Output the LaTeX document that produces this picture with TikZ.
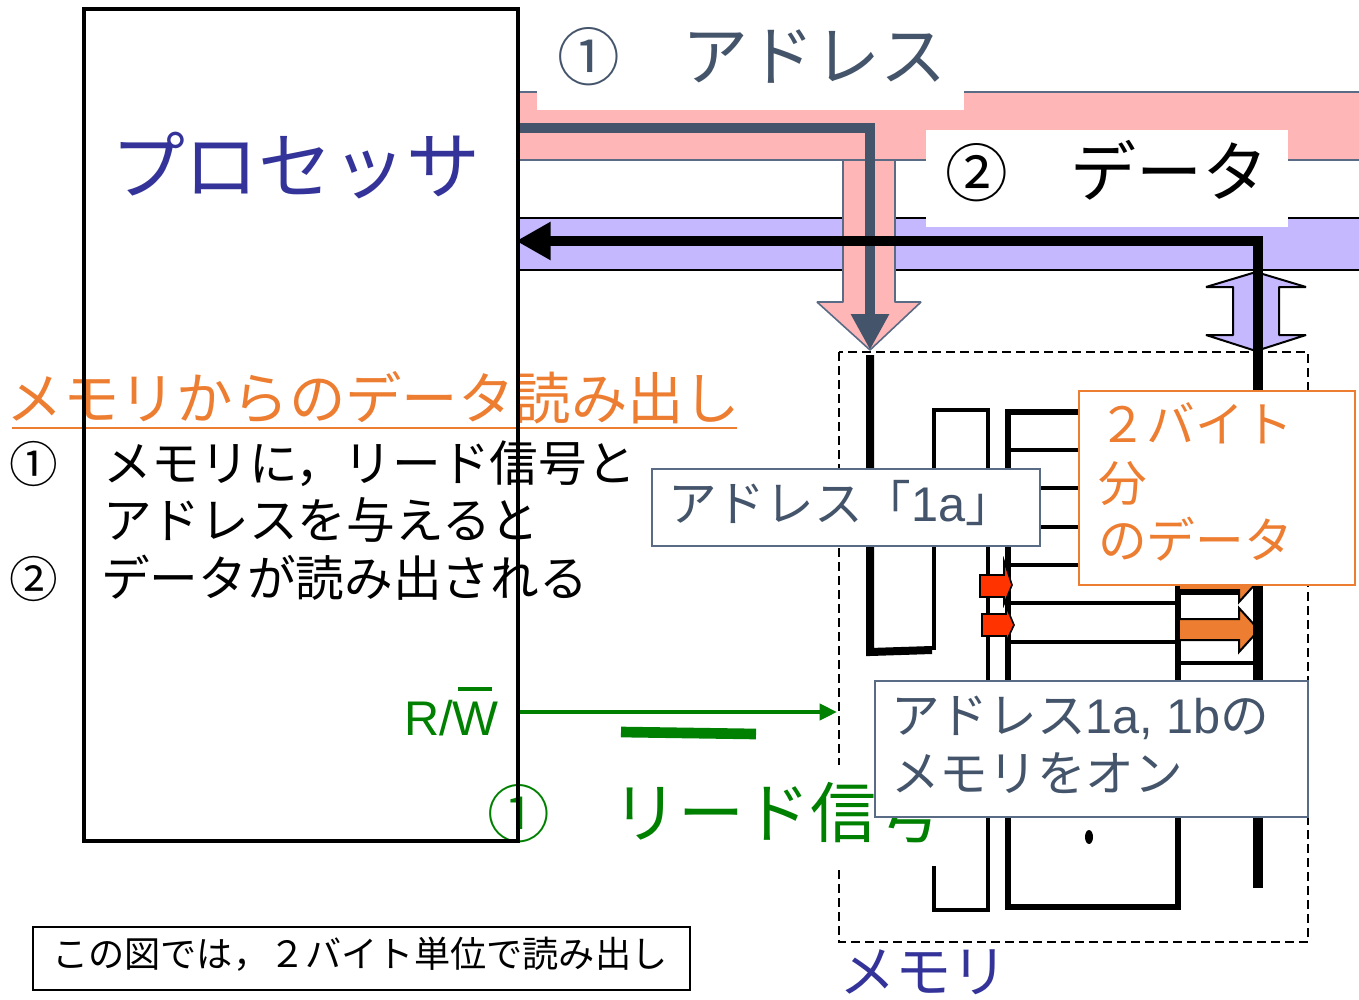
\documentclass[tikz,border=0pt]{standalone}
\usepackage{fontspec}
\setmainfont{Noto Sans CJK JP}
\newfontfamily\latf{Liberation Sans}
\usetikzlibrary{arrows.meta}
\definecolor{buspink}{HTML}{FFB6B6}
\definecolor{buslav}{HTML}{C6B8FF}
\definecolor{slate}{HTML}{44546A}
\definecolor{slateb}{HTML}{5A6B85}
\definecolor{orng}{HTML}{ED7D31}
\definecolor{indig}{HTML}{333399}
\definecolor{grn}{HTML}{008000}
\definecolor{redor}{HTML}{FF3300}
\def\px{0.75pt}
\newcommand{\bigkana}{\fontsize{49.5}{54}\selectfont}
\tikzset{
  txt/.style={anchor=base west,inner sep=0pt,outer sep=0pt},
  f27/.style={font=\fontsize{27.15}{30}\selectfont},
  f36/.style={font=\fontsize{36.5}{40}\selectfont},
  f42/.style={font=\fontsize{42.3}{46}\selectfont},
  f47/.style={font=\fontsize{47}{52}\selectfont},
  f54/.style={font=\fontsize{55.4}{60}\selectfont},
  wordline/.style={line width=3pt,black},
  boxnode/.style={draw,fill=white,inner sep=0pt,outer sep=0pt,anchor=north west},
  blanknode/.style={fill=white,inner sep=0pt,outer sep=0pt,anchor=north west},
  chip/.style={draw=black,line width=1.2pt,fill=redor,line join=miter},
  bigarrow/.style={draw=black,line width=1.5pt,fill=orng,line join=miter},
}
\begin{document}
\begin{tikzpicture}[x=0.75pt,y=-0.75pt]
\useasboundingbox (0,0) rectangle (1359,999);
% buses
\filldraw[fill=buspink,draw=slateb,line width=1.2pt] (517,92) rectangle (1365,160);
\filldraw[fill=buslav,draw=black,line width=1.5pt] (517,218) rectangle (1365,270);
% pink block arrow
\filldraw[fill=buspink,draw=slateb,line width=1.2pt,line join=bevel]
  (843,160) -- (895,160) -- (895,302) -- (921,302) -- (870,350) -- (817,302) -- (843,302) -- cycle;
% lavender double arrow
\filldraw[fill=buslav,draw=black,line width=1.5pt,line join=bevel]
  (1256,272) -- (1306,287) -- (1279,287) -- (1279,335) -- (1306,335) -- (1256,351) -- (1206,335) -- (1233,335) -- (1233,287) -- (1206,287) -- cycle;
% memory outline
\draw[line width=1.6pt,dash pattern=on 6.5pt off 4pt] (839,352) rectangle (1308,942);
% decoder
\draw[line width=3.2pt] (934,866) -- (934,910) -- (988,910) -- (988,410) -- (934,410) -- (934,650);
% memory array
\draw[line width=4.5pt] (1008,412) rectangle (1178,907);
\foreach \yy in {450,488,527,565,603,642}{\draw[wordline] (1008,\yy) -- (1178,\yy);}
\draw[wordline] (1178,593) -- (1238,593);
\draw[wordline] (1178,663) -- (1258,663);
% orange arrows
\filldraw[bigarrow] (1180,570) -- (1239,570) -- (1239,558) -- (1259,580) -- (1239,602) -- (1239,590) -- (1180,590);
\filldraw[bigarrow] (1180,619) -- (1239,619) -- (1239,608) -- (1259,630) -- (1239,652) -- (1239,640) -- (1180,640);
% red arrows
\filldraw[chip] (980,575) -- (1004,575) -- (1004,561) -- (1012,585) -- (1004,604) -- (1004,597) -- (980,597) -- cycle;
\filldraw[chip] (982,614) -- (1006,614) -- (1006,606) -- (1014,625) -- (1006,642) -- (1006,636) -- (982,636) -- cycle;
% address and data lines
\coordinate (addrstart) at (517,128);
\coordinate (addrend) at (870,350);
\coordinate (datastart) at (1258,888);
\coordinate (dataend) at (516,241);
\coordinate (addrin) at (870,355);
\coordinate (addrcorner) at (870,652);
\coordinate (addrdec) at (932,650);
\draw[line width=8.2pt,slate,-{Triangle[length=27pt,width=27pt]}] (addrstart) -| (addrend);
\draw[line width=8pt,-{Triangle[length=26pt,width=27pt]}] (datastart) |- (dataend);
\draw[line width=6pt,line join=miter] (addrin) -- (addrcorner) -- (addrdec);
\fill (1089,837) ellipse (4 and 7);
% green read signal
\node[blanknode,minimum width=413*\px,minimum height=101*\px] (readbg) at (522,765) {};
\node[txt,f47,text=grn] (readlabel) at (487,837) {①\hspace{47pt}{\bigkana リード信号}};
\coordinate (rwfrom) at (520,712);
\coordinate (rwto) at (837,712);
\draw[line width=3pt,grn,-{Triangle[length=13pt,width=12pt]}] (rwfrom) -- (rwto);
\draw[line width=8pt,grn] (621,732) -- (756,734);
\node[txt,f36,text=grn] (rwlabel) at (404,735) {\latf R/W};
\draw[line width=3pt,grn] (458,689) -- (492,689);
% labels on buses
\node[blanknode,minimum width=427*\px,minimum height=110*\px] (lbladdrbg) at (537,0) {};
\node[blanknode,minimum width=362*\px,minimum height=97*\px] (lbldatabg) at (926,130) {};
\node[txt,f47,text=slate] (lbladdr) at (557,80) {①\hspace{47pt}{\bigkana アドレス}};
\node[txt,f47] (lbldata) at (945,196) {②\hspace{47pt}{\bigkana データ}};
% callouts
\node[boxnode,draw=slateb,line width=1.2pt,minimum width=388*\px,minimum height=77*\px] (boxa) at (652,469) {};
\node[txt,f36,text=slate] (boxatext) at (668,521) {アドレス「{\latf 1a}」};
\node[boxnode,draw=orng,line width=1.2pt,minimum width=276*\px,minimum height=194*\px] (boxb) at (1079,391) {};
\node[txt,f36,text=orng] (boxbt1) at (1098,442) {２バイト};
\node[txt,f36,text=orng] (boxbt2) at (1098,501) {分};
\node[txt,f36,text=orng] (boxbt3) at (1098,558) {のデータ};
\node[boxnode,draw=slateb,line width=1.2pt,minimum width=433*\px,minimum height=136*\px] (boxc) at (875,681) {};
\node[txt,f36,text=slate] (boxct1) at (891,733) {アドレス{\latf 1a, 1b}の};
\node[txt,f36,text=slate] (boxct2) at (891,791) {メモリをオン};
% texts on left
\node[txt,f54,text=indig] (proc) at (111,193) {プロセッサ};
\node[txt,f42,text=orng] (title) at (7,419) {メモリからのデータ読み出し};
\draw[line width=1.5pt,orng] (12,428) -- (737,428);
\node[txt,f36] (n1) at (9,482) {①};
\node[txt,f36] (l1) at (103,481) {メモリに，リード信号と};
\node[txt,f36] (l2) at (103,538) {アドレスを与えると};
\node[txt,f36] (n2) at (9,597) {②};
\node[txt,f36] (l3) at (101,596) {データが読み出される};
% processor frame
\draw[line width=2.8pt] (84,9) rectangle (518,841);
% memory label and footnote
\node[txt,f42,text=indig] (memlabel) at (839,992) {メモリ};
\node[boxnode,draw=black,line width=1.1pt,minimum width=657*\px,minimum height=63*\px] (note) at (33,927) {};
\node[txt,f27] (notetext) at (52,967) {この図では，２バイト単位で読み出し};
\end{tikzpicture}
\end{document}
